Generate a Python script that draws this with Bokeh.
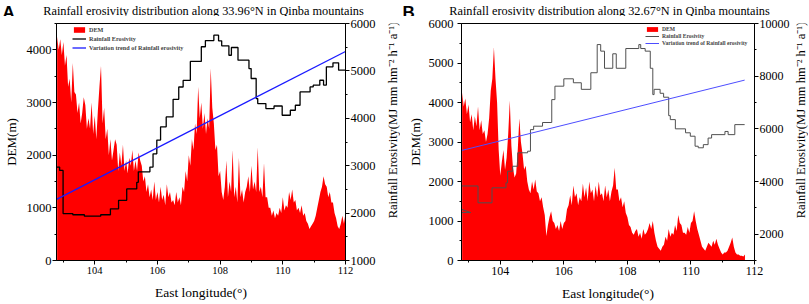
import math
from bokeh.plotting import figure
from bokeh.models import (Range1d, LinearAxis, FixedTicker, Legend, LegendItem)
from bokeh.core.properties import value
from bokeh.layouts import row, column
from bokeh.embed import file_html
from bokeh.resources import INLINE

SERIF = "Liberation Serif"
dem_step = 0.05

# ---------------- Panel A data (33.96N) ----------------
dem_a_start = 102.8
dem_a = [4250, 4000, 4200, 3900, 4150, 3700, 3900, 3300, 3450, 3000,
         3750, 3200, 3150, 2800, 3000, 2600, 2800, 3100, 2950, 2500,
         2700, 2500, 3000, 2400, 2750, 2300, 2850, 3300, 3700, 2600,
         2900, 2300, 2500, 2000, 2300, 1900, 2100, 2300, 2200, 1700,
         2050, 1800, 2200, 1700, 1900, 1650, 1950, 1800, 2100, 1700,
         1900, 1700, 2050, 1900, 1800, 1500, 1600, 1300, 1450, 1200,
         1350, 1150, 1500, 1150, 1300, 1100, 1400, 1150, 1250, 1050,
         1450, 1200, 1300, 1100, 1150, 1050, 1300, 1100, 1200, 1050,
         1400, 1300, 1700, 1500, 2000, 1800, 2300, 2100, 2600, 2400,
         3300, 2700, 3000, 2500, 2800, 2400, 2700, 2500, 3650, 2900,
         2600, 2100, 2200, 1600, 1700, 1300, 1150, 1400, 1900, 1200,
         1500, 1300, 2100, 1200, 1400, 1100, 1950, 1200, 1350, 1100,
         1300, 1400, 1600, 1300, 1800, 1350, 1500, 1300, 2150, 1300,
         1400, 1200, 1850, 1200, 1200, 1000, 1000, 850, 950, 800,
         900, 850, 1000, 900, 1200, 950, 1050, 1000, 1300, 1150,
         1350, 1100, 1150, 950, 1000, 900, 1050, 850, 900, 750,
         700, 600, 650, 700, 750, 850, 1000, 1150, 1300, 1400,
         1600, 1450, 1400, 1200, 1300, 1100, 1100, 900, 800, 650,
         600, 700, 850, 700, 900]
re_a_lon = [102.78, 102.88, 102.99, 103.30, 103.67, 104.19, 104.50, 104.76, 105.02, 105.34,
            105.39, 105.76, 105.86, 105.98, 106.10, 106.28, 106.50, 106.68, 106.82, 107.05,
            107.40, 107.53, 107.80, 107.95, 108.05, 108.28, 108.36, 108.57, 108.92, 108.99,
            109.15, 109.20, 109.46, 109.72, 109.98, 110.24, 110.40, 110.55, 110.87, 110.97,
            111.18, 111.30, 111.39, 111.60, 111.78, 112.0]
re_a = [2970, 2900, 1990, 1965, 1935, 1965, 2090, 2270, 2510, 2650,
        2870, 2970, 3250, 3540, 3820, 4030, 4400, 4660, 4800, 5200,
        5510, 5640, 5754, 5634, 5530, 5330, 5494, 5226, 5050, 4840,
        4416, 4310, 4205, 4260, 4064, 4170, 4275, 4557, 4662, 4698,
        4803, 4700, 5085, 5170, 5015, 5015]
trend_a_lon = [102.78, 112.0]
trend_a = [2290, 5410]

# ---------------- Panel B data (32.67N) ----------------
dem_b_start = 102.8
dem_b = [4250, 3900, 4100, 3700, 3950, 3500, 3700, 3300, 3650, 3400,
         3900, 3300, 3550, 3200, 3300, 3000, 3200, 3600, 4300, 4600,
         5400, 4600, 4000, 2800, 2150, 2500, 2800, 2300, 2600, 3200,
         4050, 2900, 2350, 2100, 2200, 2800, 3600, 3000, 2700, 2300,
         2400, 2000, 1800, 1700, 2000, 1800, 2050, 1750, 1700, 1500,
         1600, 1350, 1150, 620, 900, 1100, 1250, 1000, 950, 800,
         900, 750, 1000, 800, 950, 1000, 1300, 1400, 1650, 1400,
         1900, 1600, 1700, 1400, 1600, 1500, 1950, 1600, 1850, 1500,
         2000, 1700, 1800, 1500, 1900, 1600, 2000, 1650, 1700, 1500,
         1900, 1600, 1800, 1500, 1750, 1900, 2350, 1800, 1800, 1500,
         1600, 1350, 1500, 1200, 1100, 900, 850, 700, 650, 750,
         800, 600, 700, 550, 800, 650, 700, 800, 950, 800,
         1000, 700, 500, 350, 300, 250, 350, 400, 600, 500,
         800, 600, 700, 650, 900, 750, 1150, 950, 900, 700,
         700, 650, 850, 700, 950, 1000, 1250, 1000, 800, 650,
         500, 350, 300, 250, 350, 450, 400, 350, 500, 400,
         550, 400, 300, 200, 150, 200, 200, 250, 350, 450,
         580, 350, 200, 150, 150, 120, 120, 100, 150]
re_b_lon = [102.79, 103.30, 103.74, 104.18, 104.23, 104.39, 104.55, 104.86, 104.95, 105.05,
            105.33, 105.62, 105.72, 106.00, 106.30, 106.55, 106.85, 107.05, 107.16, 107.28,
            107.54, 107.65, 107.95, 108.36, 108.42, 108.56, 108.72, 108.80, 108.84, 109.03,
            109.14, 109.30, 109.35, 109.51, 109.83, 109.98, 110.13, 110.23, 110.39, 110.54,
            110.65, 111.07, 111.17, 111.38, 111.69]
re_b = [3830, 3190, 3760, 3950, 4390, 4580, 5090, 5150, 5970, 6100,
        6240, 7110, 7620, 7900, 7750, 7500, 8130, 9200, 8950, 8300,
        8850, 8300, 9050, 9200, 9050, 8950, 8300, 7300, 7500, 7350,
        7200, 6500, 6350, 6000, 5850, 5720, 5340, 5280, 5400, 5650,
        5780, 5900, 5780, 6160, 6160]
re_b_stub_lon = [102.79, 103.07, 102.79]
re_b_stub = [2940, 2820, 2820]
trend_b_lon = [102.79, 111.69]
trend_b = [5180, 7850]

x_ticks = [104, 106, 108, 110, 112]
x_minor = [103, 105, 107, 109, 111]
RE_LABEL = "Rainfall Erosivity(MJ mm hm\u207b\u00b2 h\u207b\u00b9 a\u207b\u00b9)"
TITLE_A = "Rainfall erosivity distribution along 33.96°N in Qinba mountains"
TITLE_B = "Rainfall erosivity distribution along 32.67°N in Qinba mountains"

HEAD = 16
H = 287
TOP = 7
BOTTOM = 43


def bare(width, height):
    f = figure(width=width, height=height, x_range=Range1d(0, width),
               y_range=Range1d(0, height), output_backend="svg",
               toolbar_location=None, min_border=0,
               min_border_left=0, min_border_right=0, min_border_top=0, min_border_bottom=0,
               x_axis_type=None, y_axis_type=None)
    f.title.visible = False
    f.outline_line_color = None
    f.xgrid.visible = False
    f.ygrid.visible = False
    return f


def header(width, letter, title, title_cx):
    h = bare(width, HEAD)
    h.text(x=[2], y=[HEAD - 11.5], text=[letter], text_font=value("Liberation Sans"),
           text_font_style="bold", text_font_size="17px", text_color="black",
           text_align="left", text_baseline="alphabetic")
    h.text(x=[title_cx], y=[HEAD - 10], text=[title], text_font=value(SERIF),
           text_font_size="12.3px", text_color="black",
           text_align="center", text_baseline="alphabetic")
    return h


def side_label(width, cx, cy, size):
    f = bare(width, H)
    f.text(x=[cx], y=[H - cy], text=[RE_LABEL], angle=math.pi / 2,
           text_font=value(SERIF), text_font_size=size, text_color="black",
           text_align="center", text_baseline="middle")
    return f


def style_axis(ax, tick_size, label_size="13px"):
    ax.axis_line_color = "black"
    ax.major_tick_line_color = "black"
    ax.minor_tick_line_color = "black"
    ax.major_tick_out = 4
    ax.major_tick_in = 0
    ax.minor_tick_out = 2
    ax.minor_tick_in = 0
    ax.major_label_text_font = SERIF
    ax.major_label_text_font_size = tick_size
    ax.major_label_text_color = "black"
    ax.axis_label_text_font = SERIF
    ax.axis_label_text_font_style = "normal"
    ax.axis_label_text_font_size = label_size
    ax.axis_label_text_color = "black"


def panel(dem_start, dem, re_lon, re, trend_lon, trend,
          y_max, re_max, left_ticks, left_minor, right_ticks, right_minor,
          width, bl, br, line_color, line_width, trend_color, xt_size, yt_size,
          rt_size, yl_standoff, yl_lab_standoff,
          leg_pos, leg_font, leg_gh, leg_sp, stub=None):
    fh = H - TOP - BOTTOM
    p = figure(width=width, height=H, x_range=Range1d(102.78, 112.0),
               y_range=Range1d(0, y_max), output_backend="svg",
               toolbar_location=None, min_border_left=bl, min_border_right=br,
               min_border_top=TOP, min_border_bottom=BOTTOM)
    p.title.visible = False
    p.extra_y_ranges = {"re": Range1d(1000, re_max)}
    p.xgrid.visible = False
    p.ygrid.visible = False
    p.outline_line_color = "black"
    p.outline_line_alpha = 1
    p.outline_line_width = 1

    lon = [round(dem_start + dem_step * i, 3) for i in range(len(dem))]
    r_dem = p.varea(x=lon, y1=[0] * len(dem), y2=dem, fill_color="#ff0000")
    r_re = p.step(x=re_lon, y=re, mode="after", line_color=line_color,
                  line_width=line_width, y_range_name="re")
    if stub is not None:
        p.line(x=stub[0], y=stub[1], line_color=line_color, line_width=1,
               y_range_name="re")
    r_tr = p.line(x=trend_lon, y=trend, line_color=trend_color, line_width=line_width,
                  y_range_name="re")

    xa = p.xaxis[0]
    xa.ticker = FixedTicker(ticks=x_ticks, minor_ticks=x_minor)
    xa.axis_label = "East longitude(°)"
    style_axis(xa, xt_size, "13.5px")
    xa.major_label_standoff = 2
    xa.axis_label_standoff = 8

    ya = p.yaxis[0]
    ya.ticker = FixedTicker(ticks=left_ticks, minor_ticks=left_minor)
    ya.axis_label = "DEM(m)"
    style_axis(ya, yt_size)
    ya.major_label_standoff = yl_standoff
    ya.axis_label_standoff = yl_lab_standoff

    ra = LinearAxis(y_range_name="re",
                    ticker=FixedTicker(ticks=right_ticks, minor_ticks=right_minor))
    style_axis(ra, rt_size)
    ra.major_label_standoff = 1
    p.add_layout(ra, "right")

    leg = Legend(items=[LegendItem(label="DEM", renderers=[r_dem]),
                        LegendItem(label="Rainfall Erosivity", renderers=[r_re]),
                        LegendItem(label="Variation trend of Rainfall erosivity", renderers=[r_tr])],
                 location=(leg_pos[0], fh - leg_pos[1]), orientation="vertical")
    leg.label_text_font = SERIF
    leg.label_text_font_style = "bold"
    leg.label_text_font_size = leg_font
    leg.glyph_width = 14
    leg.glyph_height = leg_gh
    leg.label_height = leg_gh
    leg.label_standoff = 3
    leg.spacing = leg_sp
    leg.padding = 0
    leg.margin = 0
    leg.border_line_alpha = 0
    leg.background_fill_alpha = 0
    p.add_layout(leg)
    return p


WA, WB = 383, 392
BLA, BRA = 52, 38
BLB, BRB = 61, 35

pA = panel(dem_a_start, dem_a, re_a_lon, re_a, trend_a_lon, trend_a,
           4500, 6000, [0, 1000, 2000, 3000, 4000], [500, 1500, 2500, 3500, 4500],
           [1000, 2000, 3000, 4000, 5000, 6000], [1500, 2500, 3500, 4500, 5500],
           width=WA, bl=BLA, br=BRA, line_color="black", line_width=1.3,
           trend_color="#1a1aff", xt_size="10.5px", yt_size="12.5px", rt_size="12.5px",
           yl_standoff=1, yl_lab_standoff=5,
           leg_pos=(16, 3 + 25), leg_font="6.2px", leg_gh=7, leg_sp=2)

pB = panel(dem_b_start, dem_b, re_b_lon, re_b, trend_b_lon, trend_b,
           6000, 10000, [0, 1000, 2000, 3000, 4000, 5000, 6000],
           [500, 1500, 2500, 3500, 4500, 5500],
           [2000, 4000, 6000, 8000, 10000], [1000, 3000, 5000, 7000, 9000],
           width=WB, bl=BLB, br=BRB, line_color="#505050", line_width=1,
           trend_color="#4d4dff", xt_size="12px", yt_size="12.5px", rt_size="12px",
           yl_standoff=4, yl_lab_standoff=3,
           leg_pos=(184, 3 + 20), leg_font="5.6px", leg_gh=6, leg_sp=1,
           stub=(re_b_stub_lon, re_b_stub))

rA = side_label(17, 9, 117, "12.5px")
rB = side_label(16, 8, 117, "12.5px")

hA = header(400, "A", TITLE_A, 203)
hB = header(408, "B", TITLE_B, 209)

layout = column(row(hA, hB), row(pA, rA, pB, rB))
open("out.html", "w").write(file_html(layout, INLINE))
